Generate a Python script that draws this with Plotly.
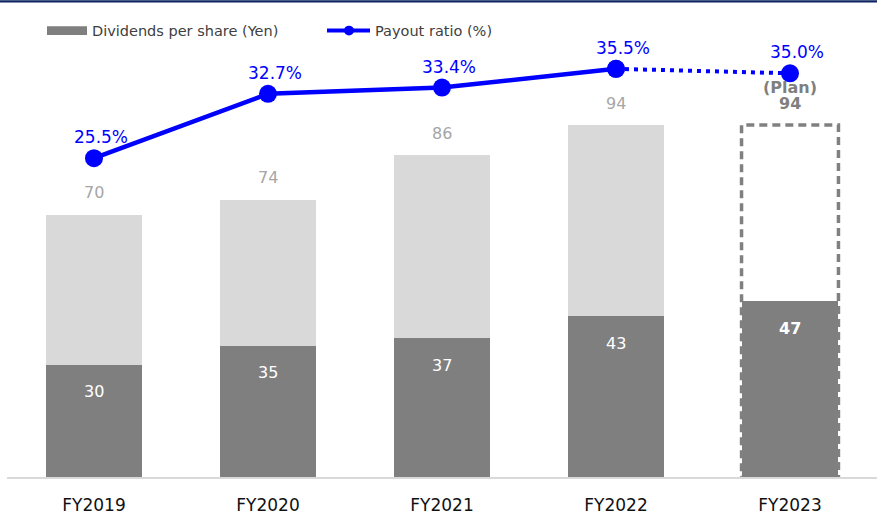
import plotly.graph_objects as go

# ---------------- data ----------------
categories = ["FY2019", "FY2020", "FY2021", "FY2022", "FY2023"]
dps_total = [70, 74, 86, 94, 94]          # annual dividends per share (Yen)
dps_lower = [30, 35, 37, 43, 47]          # dark-gray portion of the bar (Yen)
payout_ratio = [25.5, 32.7, 33.4, 35.5, 35.0]  # payout ratio (%)
is_plan = [False, False, False, False, True]
legend_labels = ["Dividends per share (Yen)", "Payout ratio (%)"]
plan_label = "(Plan)"

upper = [t - l for t, l in zip(dps_total, dps_lower)]

# ---------------- layout geometry ----------------
W, H = 877, 515
ml, mr, mt, mb = 7, 0, 45, 35
plot_w = W - ml - mr
plot_h = H - mt - mb
axis_px = H - mb

px_per_yen = 3.77
y1_max = plot_h / px_per_yen
px_per_pct = 9.0
y2_min = -91.5 / px_per_pct
y2_max = y2_min + plot_h / px_per_pct
bar_width = 0.557

DARK = "#7f7f7f"
LIGHT = "#d9d9d9"
BLUE = "#0000ff"
FONT = "DejaVu Sans"

def px_x(px):
    return (px - ml) / plot_w

def px_y(py):
    return (axis_px - py) / plot_h

fig = go.Figure()

fig.add_trace(go.Bar(
    x=categories, y=dps_lower, width=bar_width,
    marker=dict(color=DARK, line=dict(width=0)),
    hoverinfo="skip", showlegend=False,
))
fig.add_trace(go.Bar(
    x=categories, y=upper, width=bar_width,
    marker=dict(color=["rgba(255,255,255,0)" if p else LIGHT for p in is_plan],
                line=dict(width=0)),
    hoverinfo="skip", showlegend=False,
))

# payout ratio line: solid for actuals, dotted towards plan
act_idx = [i for i, p in enumerate(is_plan) if not p]
plan_idx = [i for i, p in enumerate(is_plan) if p]
seg_idx = [act_idx[-1]] + plan_idx
fig.add_trace(go.Scatter(
    x=[categories[i] for i in seg_idx], y=[payout_ratio[i] for i in seg_idx],
    yaxis="y2", mode="lines+markers",
    line=dict(color=BLUE, width=4, dash="4px,5px"),
    marker=dict(size=18, color=BLUE),
    hoverinfo="skip", showlegend=False, cliponaxis=False,
))
fig.add_trace(go.Scatter(
    x=[categories[i] for i in act_idx], y=[payout_ratio[i] for i in act_idx],
    yaxis="y2", mode="lines+markers",
    line=dict(color=BLUE, width=4.5),
    marker=dict(size=18, color=BLUE),
    hoverinfo="skip", showlegend=False, cliponaxis=False,
))

shapes = []
annotations = []

# dashed outline for plan bars
for i in plan_idx:
    shapes.append(dict(
        type="rect", xref="x", yref="y",
        x0=i - bar_width / 2, x1=i + bar_width / 2, y0=0, y1=dps_total[i],
        line=dict(color="#808080", width=3.5, dash="8px,5px"),
        fillcolor="rgba(0,0,0,0)", layer="above",
    ))

for i, c in enumerate(categories):
    plan = is_plan[i]
    # total label
    annotations.append(dict(
        x=c, y=dps_total[i], xref="x", yref="y", showarrow=False,
        text=f"<b>{dps_total[i]}</b>" if plan else str(dps_total[i]),
        yshift=22, yanchor="middle",
        font=dict(family=FONT, size=16, color="#7f7f7f" if plan else "#a6a6a6"),
    ))
    if plan:
        annotations.append(dict(
            x=c, y=dps_total[i], xref="x", yref="y", showarrow=False,
            text=f"<b>{plan_label}</b>", yshift=38, yanchor="middle",
            font=dict(family=FONT, size=16, color="#7f7f7f"),
        ))
    # lower portion label
    annotations.append(dict(
        x=c, y=dps_lower[i], xref="x", yref="y", showarrow=False,
        text=f"<b>{dps_lower[i]}</b>" if plan else str(dps_lower[i]),
        yshift=-27, yanchor="middle",
        font=dict(family=FONT, size=16, color="#ffffff"),
    ))
    # payout label
    annotations.append(dict(
        x=c, y=payout_ratio[i], xref="x", yref="y2", showarrow=False,
        text=f"{payout_ratio[i]:.1f}%", yshift=21, xshift=7, yanchor="middle",
        font=dict(family=FONT, size=17, color=BLUE),
    ))

# top navy rule
shapes.append(dict(type="rect", xref="paper", yref="paper",
                   x0=px_x(0), x1=px_x(W), y0=px_y(0), y1=px_y(2.2),
                   fillcolor="#0c2461", line=dict(width=0), layer="above"))

# manual legend
leg_y = 30.5
shapes.append(dict(type="rect", xref="paper", yref="paper",
                   x0=px_x(47), x1=px_x(87), y0=px_y(leg_y + 4.5), y1=px_y(leg_y - 4.5),
                   fillcolor=DARK, line=dict(width=0)))
annotations.append(dict(x=px_x(90), y=px_y(leg_y), xref="paper", yref="paper",
                        xanchor="left", yanchor="middle", showarrow=False,
                        text=legend_labels[0],
                        font=dict(family=FONT, size=14.5, color="#404040")))
shapes.append(dict(type="line", xref="paper", yref="paper",
                   x0=px_x(327), x1=px_x(370), y0=px_y(leg_y), y1=px_y(leg_y),
                   line=dict(color=BLUE, width=4)))
shapes.append(dict(type="circle", xref="paper", yref="paper",
                   x0=px_x(344), x1=px_x(354), y0=px_y(leg_y + 5), y1=px_y(leg_y - 5),
                   fillcolor=BLUE, line=dict(width=0)))
annotations.append(dict(x=px_x(373), y=px_y(leg_y), xref="paper", yref="paper",
                        xanchor="left", yanchor="middle", showarrow=False,
                        text=legend_labels[1],
                        font=dict(family=FONT, size=14.5, color="#404040")))

fig.update_layout(
    width=W, height=H,
    margin=dict(l=ml, r=mr, t=mt, b=mb, pad=0),
    barmode="stack", bargap=1 - bar_width,
    paper_bgcolor="white", plot_bgcolor="white",
    font=dict(family=FONT),
    showlegend=False,
    xaxis=dict(
        type="category", showgrid=False, zeroline=False,
        showline=True, linecolor="#d9d9d9", linewidth=2,
        ticks="", tickfont=dict(family=FONT, size=17, color="#111111"),
        ticklabelstandoff=12, range=[-0.5, len(categories) - 0.5],
    ),
    yaxis=dict(visible=False, range=[0, y1_max], fixedrange=True),
    yaxis2=dict(visible=False, range=[y2_min, y2_max], overlaying="y",
                side="right", fixedrange=True),
    shapes=shapes, annotations=annotations,
)

fig.write_html(
    "out.html",
    config={"displayModeBar": False},
    post_script="document.body.style.margin='0';document.body.style.overflow='hidden';",
)
